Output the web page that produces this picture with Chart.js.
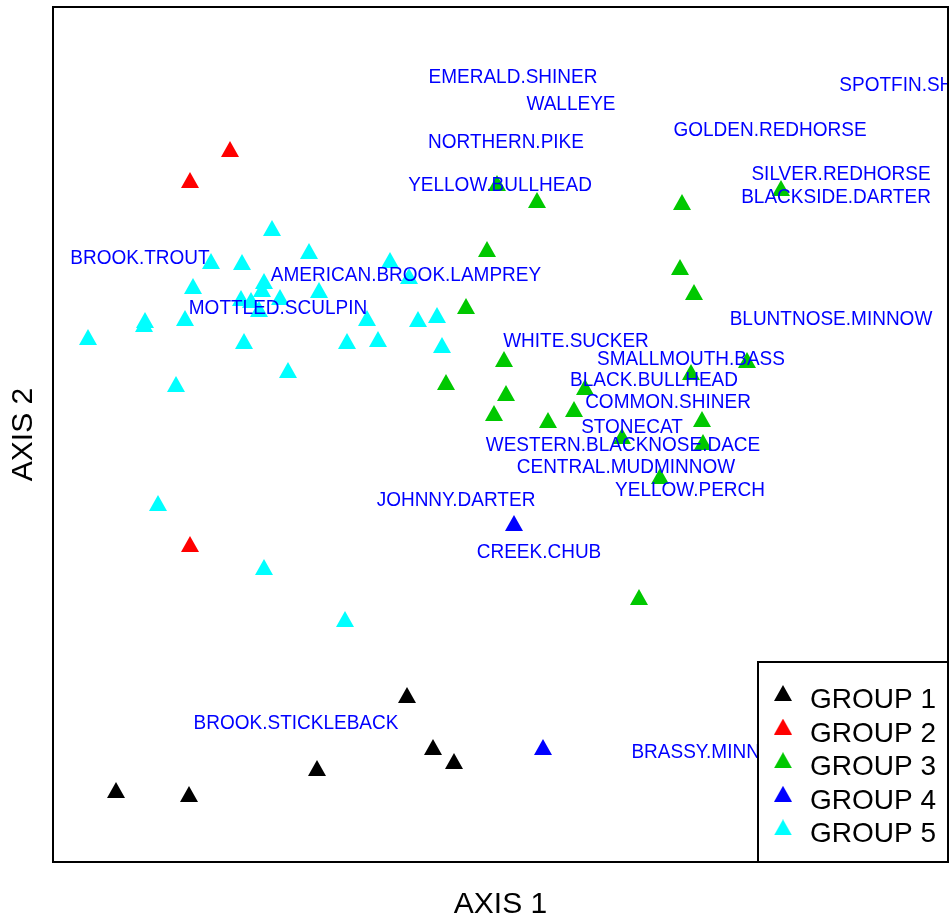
<!DOCTYPE html>
<html>
<head>
<meta charset="utf-8">
<title>Fish community ordination</title>
<script src="https://cdn.jsdelivr.net/npm/chart.js@4.4.1/dist/chart.umd.min.js"></script>
<style>
  html, body { margin: 0; padding: 0; background: #ffffff; }
  #c { display: block; }
</style>
</head>
<body>
<canvas id="c" width="950" height="920"></canvas>
<script>
// Site scores on the first two ordination axes, one pair of arrays per group
const groupNames = ['GROUP 1', 'GROUP 2', 'GROUP 3', 'GROUP 4', 'GROUP 5'];
const groupColors = ['#000000', '#ff0000', '#00c800', '#0000ff', '#00ffff'];

const group1X = [-3.84, -3.11, -1.83, -0.93, -0.67, -0.46];
const group1Y = [-3.55, -3.59, -3.33, -2.60, -3.12, -3.26];

const group2X = [-2.70, -3.10, -3.10];
const group2Y = [2.86, 2.55, -1.09];

const group3X = [-0.03, 0.37, -0.13, -0.34, 2.81, 1.82, 1.80, 1.94, 2.47, 1.91, 2.02,
                 2.03, 1.22, 1.60, 1.39, -0.54, 0.04, 0.06, -0.06, 0.48, 0.74, 0.85];
const group3Y = [2.52, 2.35, 1.86, 1.29, 2.47, 2.33, 1.68, 1.43, 0.75, 0.63, 0.16,
                 -0.07, -0.01, -0.41, -1.62, 0.53, 0.76, 0.42, 0.22, 0.15, 0.26, 0.48];

const group4X = [0.14, 0.43];
const group4Y = [-0.88, -3.12];

const group5X = [-2.28, -1.91, -2.89, -2.58, -1.10, -0.91, -3.07, -2.36, -2.38, -2.59,
                 -2.49, -2.41, -2.20, -1.81, -3.55, -3.56, -3.15, -4.12, -2.56, -3.24,
                 -2.12, -1.33, -0.82, -0.63, -1.53, -1.22, -0.58, -3.42, -2.36, -1.55];
const group5Y = [2.07, 1.84, 1.74, 1.73, 1.75, 1.59, 1.49, 1.54, 1.46, 1.37,
                 1.35, 1.26, 1.38, 1.45, 1.15, 1.11, 1.17, 0.98, 0.94, 0.51,
                 0.65, 1.17, 1.16, 1.20, 0.94, 0.96, 0.90, -0.68, -1.32, -1.84];

// Species scores, drawn as text labels
const speciesNames = ['EMERALD.SHINER', 'WALLEYE', 'NORTHERN.PIKE', 'YELLOW.BULLHEAD',
  'SPOTFIN.SHINER', 'GOLDEN.REDHORSE', 'SILVER.REDHORSE', 'BLACKSIDE.DARTER',
  'BLUNTNOSE.MINNOW', 'BROOK.TROUT', 'AMERICAN.BROOK.LAMPREY', 'MOTTLED.SCULPIN',
  'WHITE.SUCKER', 'SMALLMOUTH.BASS', 'BLACK.BULLHEAD', 'COMMON.SHINER', 'STONECAT',
  'WESTERN.BLACKNOSE.DACE', 'CENTRAL.MUDMINNOW', 'YELLOW.PERCH', 'JOHNNY.DARTER',
  'CREEK.CHUB', 'BROOK.STICKLEBACK', 'BRASSY.MINNOW'];
const speciesX = [0.13, 0.71, 0.06, 0.00, 4.19, 2.70, 3.41, 3.36, 3.31, -3.60, -0.94, -2.22,
                  0.76, 1.91, 1.54, 1.68, 1.32, 1.23, 1.26, 1.90, -0.44, 0.39, -2.04, 2.12];
const speciesY = [3.59, 3.32, 2.94, 2.51, 3.51, 3.06, 2.62, 2.39, 1.17, 1.78, 1.61, 1.28,
                  0.95, 0.77, 0.56, 0.34, 0.09, -0.09, -0.31, -0.54, -0.64, -1.16, -2.87, -3.16];

const axisTitles = ['AXIS 1', 'AXIS 2'];

const FONT = "'Liberation Sans', Arial, Helvetica, sans-serif";

// Filled triangle marker used for every group
function triangleIcon(color) {
  const c = document.createElement('canvas');
  c.width = 18; c.height = 16;
  const g = c.getContext('2d');
  g.fillStyle = color;
  g.beginPath();
  g.moveTo(9, 0);
  g.lineTo(18, 16);
  g.lineTo(0, 16);
  g.closePath();
  g.fill();
  return c;
}

const groupX = [group1X, group2X, group3X, group4X, group5X];
const groupY = [group1Y, group2Y, group3Y, group4Y, group5Y];

const datasets = groupNames.map((name, i) => ({
  label: name,
  data: groupX[i].map((x, j) => ({ x: x, y: groupY[i][j] })),
  pointStyle: triangleIcon(groupColors[i]),
  pointRadius: 9,
  pointHoverRadius: 9,
  borderWidth: 0,
  backgroundColor: groupColors[i],
  borderColor: groupColors[i],
  isGroup: true
}));

datasets.push({
  label: 'species',
  data: speciesX.map((x, j) => ({ x: x, y: speciesY[j] })),
  pointRadius: 0,
  pointHoverRadius: 0,
  borderWidth: 0,
  speciesNames: speciesNames
});

// Species names written at their scores, clipped to the plot region
const speciesLabels = {
  id: 'speciesLabels',
  afterDatasetsDraw(chart) {
    const ctx = chart.ctx;
    const a = chart.chartArea;
    chart.data.datasets.forEach((ds, di) => {
      if (!ds.speciesNames) return;
      const meta = chart.getDatasetMeta(di);
      ctx.save();
      ctx.beginPath();
      ctx.rect(a.left, a.top, a.right - a.left, a.bottom - a.top);
      ctx.clip();
      ctx.fillStyle = '#0000ff';
      ctx.font = '19px ' + FONT;
      ctx.textAlign = 'center';
      ctx.textBaseline = 'alphabetic';
      meta.data.forEach((pt, k) => {
        ctx.save();
        ctx.translate(pt.x, pt.y);
        ctx.scale(1, 1.1);
        ctx.fillText(ds.speciesNames[k], 0, 6.8);
        ctx.restore();
      });
      ctx.restore();
    });
  }
};

// Box round the plot region and the group key in its lower right corner
const frameAndKey = {
  id: 'frameAndKey',
  afterDraw(chart) {
    const ctx = chart.ctx;
    const a = chart.chartArea;
    ctx.save();
    ctx.strokeStyle = '#000';
    ctx.lineWidth = 2;
    ctx.strokeRect(a.left, a.top, a.right - a.left, a.bottom - a.top);

    const w = 190, h = 200;
    const bx = a.right - w, by = a.bottom - h;
    ctx.fillStyle = '#fff';
    ctx.fillRect(bx, by, w, h);
    ctx.strokeRect(bx, by, w, h);

    ctx.font = '28px ' + FONT;
    ctx.textAlign = 'left';
    ctx.textBaseline = 'alphabetic';
    chart.data.datasets.forEach((ds, i) => {
      if (!ds.isGroup) return;
      const base = by + 46 + i * 33.6;
      const icon = ds.pointStyle;
      ctx.drawImage(icon, bx + 25 - icon.width / 2, base - 15 - icon.height / 2);
      ctx.fillStyle = '#000';
      ctx.fillText(ds.label, bx + 52, base);
    });
    ctx.restore();
  }
};

new Chart(document.getElementById('c'), {
  type: 'scatter',
  data: { datasets: datasets },
  options: {
    responsive: false,
    animation: false,
    events: [],
    layout: { autoPadding: false, padding: { top: 7, right: 2, left: 0, bottom: 0 } },
    plugins: {
      legend: { display: false },
      tooltip: { enabled: false }
    },
    scales: {
      x: {
        type: 'linear',
        min: -4.47,
        max: 4.48,
        grid: { display: false, drawTicks: false },
        border: { display: false },
        ticks: { display: false },
        title: {
          display: true,
          text: axisTitles[0],
          color: '#000',
          font: { family: FONT, size: 30, lineHeight: 1 },
          padding: { top: 28, bottom: 0 }
        }
      },
      y: {
        type: 'linear',
        min: -4.27,
        max: 4.28,
        grid: { display: false, drawTicks: false },
        border: { display: false },
        ticks: { display: false },
        title: {
          display: true,
          text: axisTitles[1],
          color: '#000',
          font: { family: FONT, size: 30, lineHeight: 1 },
          padding: { top: 8.5, bottom: 14.5 }
        }
      }
    }
  },
  plugins: [speciesLabels, frameAndKey]
});
</script>
</body>
</html>
